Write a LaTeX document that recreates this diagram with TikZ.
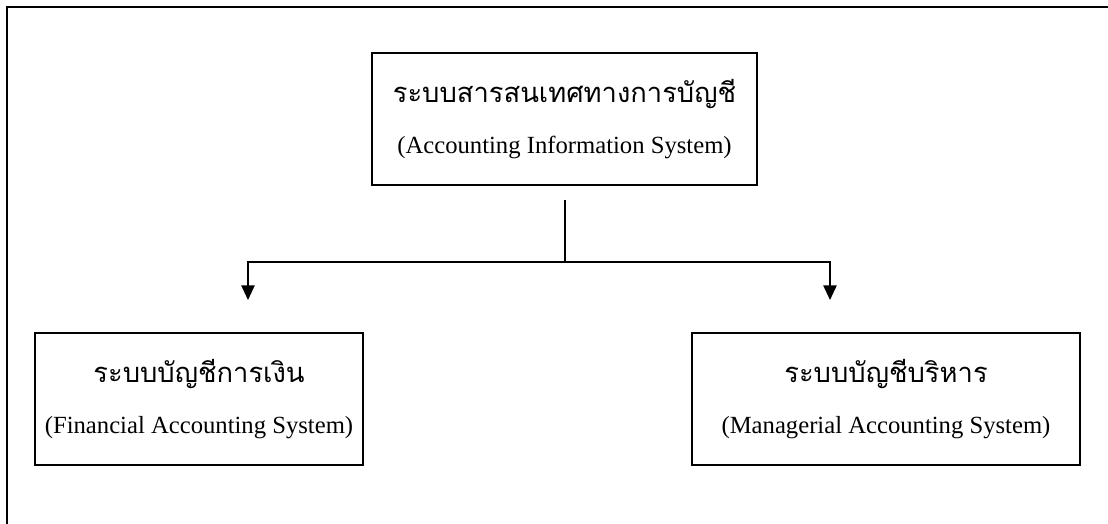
\documentclass[tikz,border=0pt]{standalone}
\usepackage{fontspec}
\setmainfont{Liberation Serif}
\newfontfamily\thaifont[Script=Thai]{Loma}
\usetikzlibrary{arrows.meta}

\tikzset{
  sysbox/.style={draw, line width=1.2pt, align=center, inner sep=0pt,
    minimum height=99pt, font=\fontsize{18.5}{23}\selectfont},
  link/.style={line width=1.2pt},
  linkarrow/.style={link, -{Triangle[width=10pt,length=11pt]}}
}
\newcommand{\thline}[1]{{\thaifont\fontsize{20.5}{24}\selectfont #1}}

\begin{document}
\begin{tikzpicture}[x=0.75pt, y=-0.75pt]
  \useasboundingbox (0,0) rectangle (1108,524);
  % рамка
  \draw [line width=1.6pt] (7,524) -- (7,7) -- (1108,7);

  % блоки
  \node [sysbox, minimum width=289pt] (ais) at (564.5,119)
    {\thline{ระบบสารสนเทศทางการบัญชี}\\[15pt] (Accounting Information System)};
  \node [sysbox, minimum width=246pt] (fin) at (199,399)
    {\thline{ระบบบัญชีการเงิน}\\[15pt] (Financial Accounting System)};
  \node [sysbox, minimum width=291pt] (mng) at (886,399)
    {\thline{ระบบบัญชีบริหาร}\\[15pt] (Managerial Accounting System)};

  % связи
  \coordinate (stem) at (565,200);
  \coordinate (split) at (565,262);
  \coordinate (tipfin) at (248,300);
  \coordinate (tipmng) at (830,300);
  \draw [link] (stem) -- (split);
  \draw [linkarrow] (split) -| (tipfin);
  \draw [linkarrow] (split) -| (tipmng);
\end{tikzpicture}
\end{document}
